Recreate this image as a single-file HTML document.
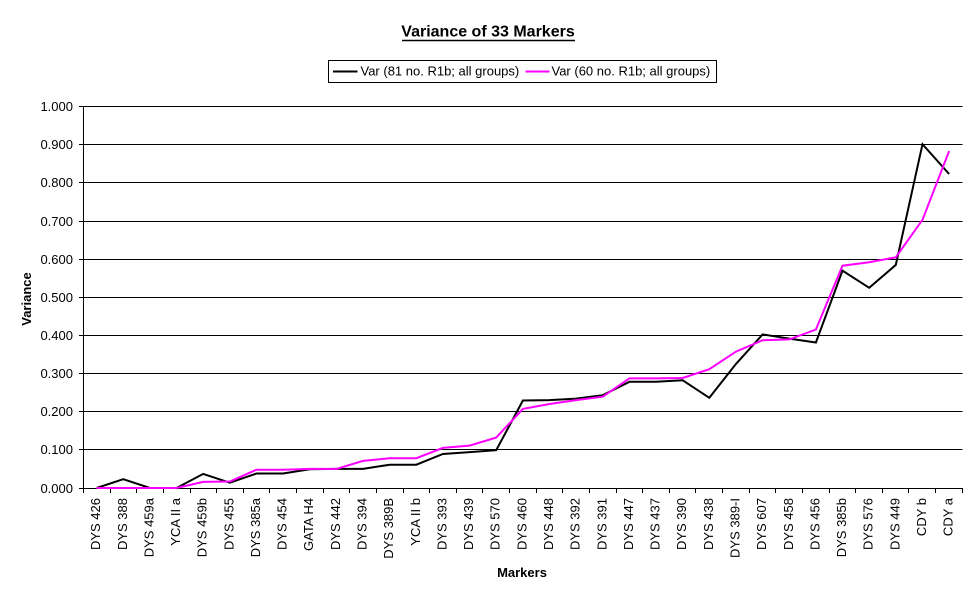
<!DOCTYPE html>
<html>
<head>
<meta charset="utf-8">
<style>
html,body{margin:0;padding:0;background:#fff;}
svg{display:block;}
text{font-family:"Liberation Sans",Arial,sans-serif;fill:#000;}
</style>
</head>
<body>
<svg width="977" height="600" viewBox="0 0 977 600" xmlns="http://www.w3.org/2000/svg">
<rect x="0" y="0" width="977" height="600" fill="#fff"/>
<!-- Title -->
<text x="488" y="36.5" font-size="16" font-weight="bold" text-anchor="middle">Variance of 33 Markers</text>
<line x1="402" y1="40.5" x2="575" y2="40.5" stroke="#000" stroke-width="1.4"/>
<!-- Legend -->
<rect x="328.5" y="60.5" width="388" height="22" fill="#fff" stroke="#000" stroke-width="1"/>
<line x1="333" y1="71.5" x2="357.5" y2="71.5" stroke="#000" stroke-width="2"/>
<text x="360.5" y="75.5" font-size="13">Var (81 no. R1b; all groups)</text>
<line x1="525.5" y1="71.5" x2="549.5" y2="71.5" stroke="#ff00ff" stroke-width="2"/>
<text x="551.5" y="75.5" font-size="13">Var (60 no. R1b; all groups)</text>
<!-- Gridlines -->
<g stroke="#000" stroke-width="1">
<line x1="79" y1="106.5" x2="962.5" y2="106.5"/>
<line x1="79" y1="144.5" x2="962.5" y2="144.5"/>
<line x1="79" y1="182.5" x2="962.5" y2="182.5"/>
<line x1="79" y1="221.5" x2="962.5" y2="221.5"/>
<line x1="79" y1="259.5" x2="962.5" y2="259.5"/>
<line x1="79" y1="297.5" x2="962.5" y2="297.5"/>
<line x1="79" y1="335.5" x2="962.5" y2="335.5"/>
<line x1="79" y1="373.5" x2="962.5" y2="373.5"/>
<line x1="79" y1="411.5" x2="962.5" y2="411.5"/>
<line x1="79" y1="449.5" x2="962.5" y2="449.5"/>
<line x1="79" y1="488.5" x2="962.5" y2="488.5"/>
<!-- y axis -->
<line x1="83.5" y1="106" x2="83.5" y2="489"/>
<!-- x ticks -->
<line x1="83.5" y1="488" x2="83.5" y2="493"/>
<line x1="110.5" y1="488" x2="110.5" y2="493"/>
<line x1="136.5" y1="488" x2="136.5" y2="493"/>
<line x1="163.5" y1="488" x2="163.5" y2="493"/>
<line x1="190.5" y1="488" x2="190.5" y2="493"/>
<line x1="216.5" y1="488" x2="216.5" y2="493"/>
<line x1="243.5" y1="488" x2="243.5" y2="493"/>
<line x1="269.5" y1="488" x2="269.5" y2="493"/>
<line x1="296.5" y1="488" x2="296.5" y2="493"/>
<line x1="323.5" y1="488" x2="323.5" y2="493"/>
<line x1="349.5" y1="488" x2="349.5" y2="493"/>
<line x1="376.5" y1="488" x2="376.5" y2="493"/>
<line x1="403.5" y1="488" x2="403.5" y2="493"/>
<line x1="429.5" y1="488" x2="429.5" y2="493"/>
<line x1="456.5" y1="488" x2="456.5" y2="493"/>
<line x1="482.5" y1="488" x2="482.5" y2="493"/>
<line x1="509.5" y1="488" x2="509.5" y2="493"/>
<line x1="536.5" y1="488" x2="536.5" y2="493"/>
<line x1="562.5" y1="488" x2="562.5" y2="493"/>
<line x1="589.5" y1="488" x2="589.5" y2="493"/>
<line x1="616.5" y1="488" x2="616.5" y2="493"/>
<line x1="642.5" y1="488" x2="642.5" y2="493"/>
<line x1="669.5" y1="488" x2="669.5" y2="493"/>
<line x1="695.5" y1="488" x2="695.5" y2="493"/>
<line x1="722.5" y1="488" x2="722.5" y2="493"/>
<line x1="749.5" y1="488" x2="749.5" y2="493"/>
<line x1="775.5" y1="488" x2="775.5" y2="493"/>
<line x1="802.5" y1="488" x2="802.5" y2="493"/>
<line x1="829.5" y1="488" x2="829.5" y2="493"/>
<line x1="855.5" y1="488" x2="855.5" y2="493"/>
<line x1="882.5" y1="488" x2="882.5" y2="493"/>
<line x1="908.5" y1="488" x2="908.5" y2="493"/>
<line x1="935.5" y1="488" x2="935.5" y2="493"/>
<line x1="962.5" y1="488" x2="962.5" y2="493"/>
</g>
<!-- Y labels -->
<g font-size="13" text-anchor="end">
<text x="73" y="111">1.000</text>
<text x="73" y="149">0.900</text>
<text x="73" y="187">0.800</text>
<text x="73" y="226">0.700</text>
<text x="73" y="264">0.600</text>
<text x="73" y="302">0.500</text>
<text x="73" y="340">0.400</text>
<text x="73" y="378">0.300</text>
<text x="73" y="416">0.200</text>
<text x="73" y="454">0.100</text>
<text x="73" y="493">0.000</text>
</g>
<!-- Axis titles -->
<text transform="translate(31,299) rotate(-90)" font-size="13" font-weight="bold" text-anchor="middle">Variance</text>
<text x="522" y="577" font-size="13" font-weight="bold" text-anchor="middle">Markers</text>
<!-- X labels -->
<g font-size="13" text-anchor="end">
<text transform="translate(100.1,498) rotate(-90)">DYS 426</text>
<text transform="translate(126.8,498) rotate(-90)">DYS 388</text>
<text transform="translate(153.4,498) rotate(-90)">DYS 459a</text>
<text transform="translate(180,498) rotate(-90)">YCA II a</text>
<text transform="translate(206.7,498) rotate(-90)">DYS 459b</text>
<text transform="translate(233.3,498) rotate(-90)">DYS 455</text>
<text transform="translate(260,498) rotate(-90)">DYS 385a</text>
<text transform="translate(286.6,498) rotate(-90)">DYS 454</text>
<text transform="translate(313.2,498) rotate(-90)">GATA H4</text>
<text transform="translate(339.9,498) rotate(-90)">DYS 442</text>
<text transform="translate(366.5,498) rotate(-90)">DYS 394</text>
<text transform="translate(393.2,498) rotate(-90)">DYS 389B</text>
<text transform="translate(419.8,498) rotate(-90)">YCA II b</text>
<text transform="translate(446.4,498) rotate(-90)">DYS 393</text>
<text transform="translate(473.1,498) rotate(-90)">DYS 439</text>
<text transform="translate(499.7,498) rotate(-90)">DYS 570</text>
<text transform="translate(526.4,498) rotate(-90)">DYS 460</text>
<text transform="translate(553,498) rotate(-90)">DYS 448</text>
<text transform="translate(579.6,498) rotate(-90)">DYS 392</text>
<text transform="translate(606.3,498) rotate(-90)">DYS 391</text>
<text transform="translate(632.9,498) rotate(-90)">DYS 447</text>
<text transform="translate(659.6,498) rotate(-90)">DYS 437</text>
<text transform="translate(686.2,498) rotate(-90)">DYS 390</text>
<text transform="translate(712.8,498) rotate(-90)">DYS 438</text>
<text transform="translate(739.5,498) rotate(-90)">DYS 389-I</text>
<text transform="translate(766.1,498) rotate(-90)">DYS 607</text>
<text transform="translate(792.8,498) rotate(-90)">DYS 458</text>
<text transform="translate(819.4,498) rotate(-90)">DYS 456</text>
<text transform="translate(846,498) rotate(-90)">DYS 385b</text>
<text transform="translate(872.7,498) rotate(-90)">DYS 576</text>
<text transform="translate(899.3,498) rotate(-90)">DYS 449</text>
<text transform="translate(926,498) rotate(-90)">CDY b</text>
<text transform="translate(952.6,498) rotate(-90)">CDY a</text>
</g>
<!-- Series: black -->
<polyline fill="none" stroke="#000" stroke-width="2" stroke-linejoin="miter" points="96.6,488 123.3,479.2 149.9,488 176.5,488 203.2,473.9 229.8,482.7 256.5,473.5 283.1,473.5 309.7,469.3 336.4,468.9 363,468.9 389.7,464.7 416.3,464.7 442.9,454 469.6,452.1 496.2,450.2 522.9,400.5 549.5,400.1 576.1,398.6 602.8,395.2 629.4,381.8 656.1,381.8 682.7,380.3 709.3,397.8 736,363.9 762.6,334.4 789.3,338.6 815.9,342.5 842.5,270.6 869.2,287.8 895.8,264.9 922.5,144.2 949.1,174"/>
<!-- Series: magenta -->
<polyline fill="none" stroke="#ff00ff" stroke-width="2" stroke-linejoin="miter" points="96.6,488 123.3,488 149.9,488 176.5,488 203.2,481.9 229.8,481.5 256.5,469.7 283.1,469.7 309.7,468.9 336.4,468.9 363,460.9 389.7,458.2 416.3,458.2 442.9,447.9 469.6,445.6 496.2,437.6 522.9,408.9 549.5,404 576.1,400.1 602.8,396.7 629.4,378.4 656.1,378.4 682.7,378 709.3,369.2 736,351.6 762.6,340.2 789.3,339.4 815.9,329.5 842.5,265.7 869.2,262.2 895.8,257.3 922.5,219.8 949.1,151.1"/>
</svg>
</body>
</html>
